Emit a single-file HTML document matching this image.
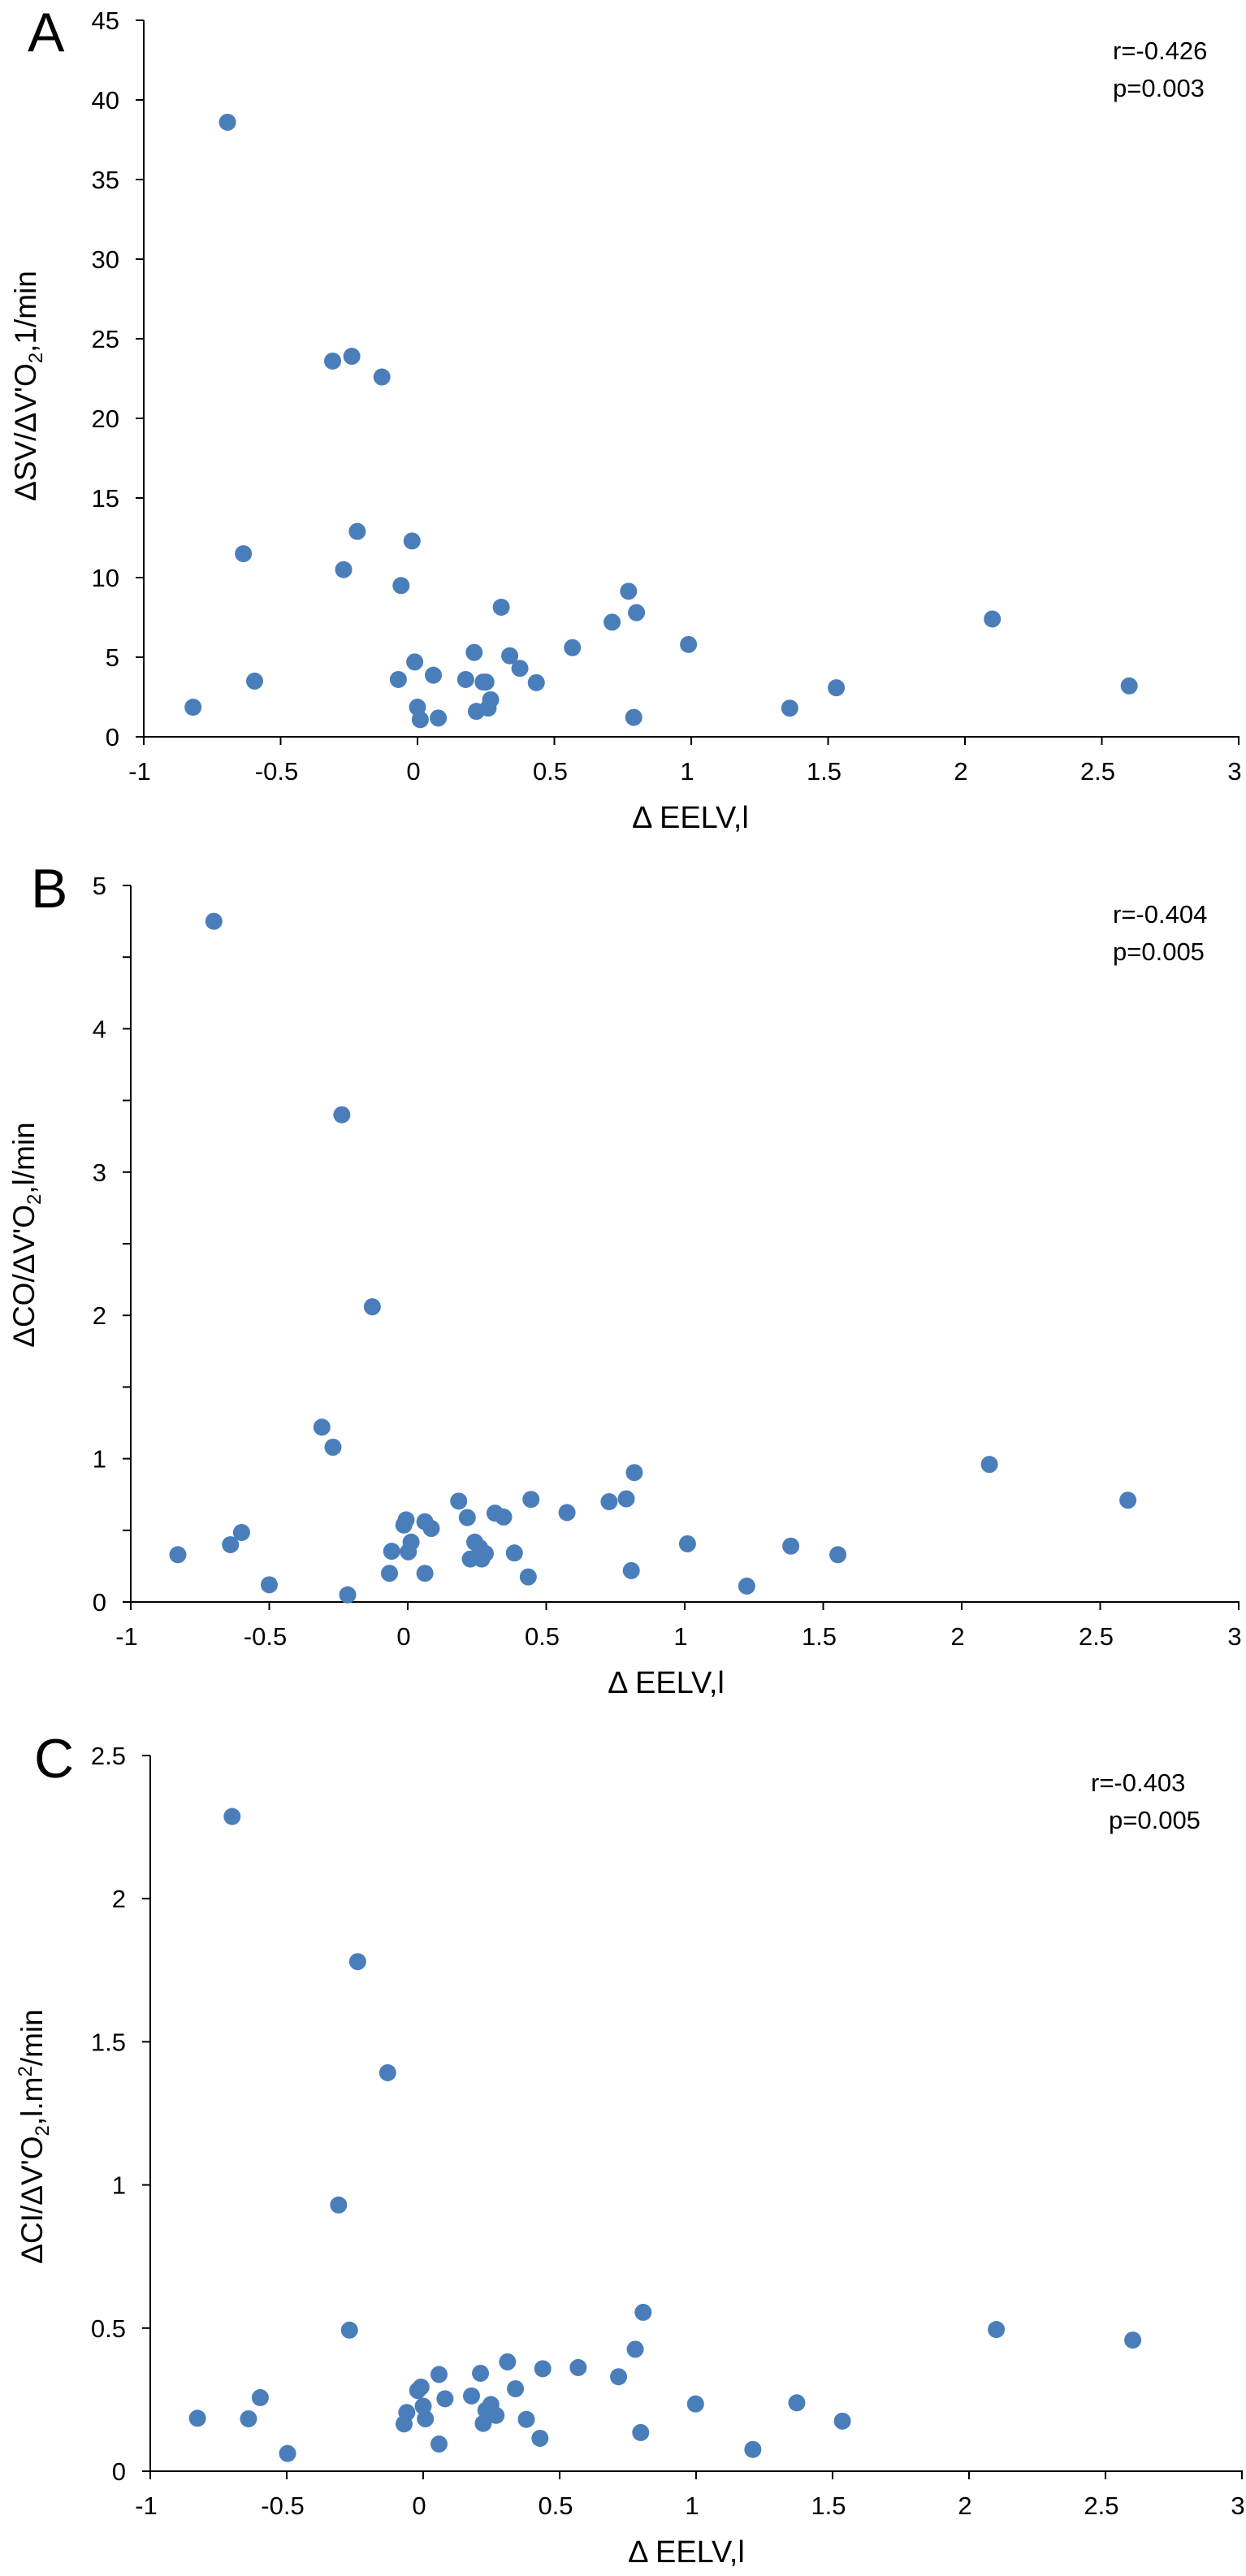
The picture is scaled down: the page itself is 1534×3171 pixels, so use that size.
<!DOCTYPE html>
<html><head><meta charset="utf-8"><style>
html,body{margin:0;padding:0;background:#fff;}
svg{display:block;font-family:"Liberation Sans",Arial,sans-serif;}
</style></head><body>
<svg id="fig" width="1534" height="3171" viewBox="0 0 1534 3171" xmlns="http://www.w3.org/2000/svg"></svg>
<script>
// Panel A data
const aX = [-0.694,-0.82,-0.636,-0.595,-0.31,-0.24,-0.13,-0.22,-0.27,-0.02,-0.06,-0.07,-0.01,0,0.01,0.076,0.058,0.176,0.207,0.215,0.24,0.25,0.258,0.267,0.306,0.337,0.374,0.434,0.566,0.711,0.771,0.80,0.79,0.99,1.36,1.53,2.1,2.6];
const aY = [38.6,1.86,11.5,3.5,23.6,23.9,22.6,12.9,10.5,12.3,9.5,3.6,4.7,1.86,1.08,1.18,3.87,3.6,5.3,1.6,3.44,3.44,1.8,2.33,8.14,5.09,4.3,3.4,5.6,7.2,9.14,7.8,1.22,5.8,1.8,3.08,7.4,3.2];
const aYTicks = [0,5,10,15,20,25,30,35,40,45];
// Panel B data
const bX = [-0.70,-0.238,-0.128,-0.31,-0.27,-0.83,-0.64,-0.60,-0.50,-0.217,-0.066,-0.058,-0.014,-0.006,0.002,0.012,0.062,0.085,0.062,0.184,0.215,0.226,0.242,0.26,0.267,0.28,0.315,0.346,0.385,0.435,0.445,0.575,0.727,0.789,0.818,0.807,1.01,1.224,1.383,1.553,2.1,2.6];
const bY = [4.75,3.40,2.06,1.22,1.08,0.33,0.40,0.485,0.12,0.05,0.20,0.354,0.537,0.573,0.35,0.418,0.56,0.513,0.20,0.704,0.589,0.30,0.418,0.378,0.30,0.338,0.62,0.593,0.342,0.175,0.716,0.624,0.70,0.72,0.903,0.219,0.406,0.111,0.39,0.33,0.96,0.71];
const bYTicks = [0,1,2,3,4,5];
// Panel C data
const cX = [-0.70,-0.24,-0.13,-0.31,-0.27,-0.827,-0.64,-0.597,-0.497,-0.07,-0.06,-0.02,-0.008,0,0.008,0.058,0.058,0.08,0.177,0.21,0.22,0.23,0.248,0.267,0.309,0.338,0.378,0.428,0.438,0.568,0.716,0.777,0.806,0.797,0.998,1.208,1.369,1.536,2.1,2.6];
const cY = [2.287,1.78,1.392,0.93,0.493,0.185,0.183,0.257,0.062,0.165,0.205,0.282,0.294,0.227,0.183,0.338,0.095,0.253,0.263,0.342,0.167,0.213,0.233,0.195,0.382,0.288,0.181,0.115,0.358,0.362,0.33,0.426,0.555,0.135,0.235,0.076,0.239,0.175,0.495,0.458];
const cYTicks = [0,0.5,1,1.5,2,2.5];
const xTicks = [-1,-0.5,0,0.5,1,1.5,2,2.5,3];

const NS = "http://www.w3.org/2000/svg";
const svg = document.getElementById('fig');
function mk(tag, attrs, parent, text){
  const e = document.createElementNS(NS, tag);
  for (const k in attrs) e.setAttribute(k, attrs[k]);
  if (text !== undefined) e.textContent = text;
  (parent || svg).appendChild(e);
  return e;
}

function panel(cfg){
  const g = mk('g', {});
  
  
  const xs = v => cfg.x0 + (v - (-1)) * (cfg.x1 - cfg.x0) / 4;
  const ys = v => cfg.y0 - v * (cfg.y0 - cfg.yTop) / cfg.yMax;
  // axes
  const ya = mk('line', {x1: cfg.x0, y1: cfg.yTop, x2: cfg.x0, y2: cfg.y0, stroke: '#000', 'stroke-width': 2}, g);
  
  
  const xa = mk('line', {x1: cfg.x0 - 10, y1: cfg.y0, x2: cfg.x1 + 1, y2: cfg.y0, stroke: '#000', 'stroke-width': 2}, g);
  
  
  // y ticks
  cfg.yTicks.forEach(t => {
    const y = ys(t);
    mk('line', {x1: cfg.x0 - 10, y1: y, x2: cfg.x0, y2: y, stroke: '#000', 'stroke-width': 2}, g);
    const lb = mk('text', {x: cfg.x0 - 30, y: y + 11, 'text-anchor': 'end', 'font-size': 31}, g, String(t));
    
    
  });
  if (cfg.minor) {
    cfg.yTicks.slice(0, -1).forEach(t => {
      const y = ys(t + cfg.minor);
      mk('line', {x1: cfg.x0 - 10, y1: y, x2: cfg.x0, y2: y, stroke: '#000', 'stroke-width': 2}, g);
    });
  }
  // x ticks
  xTicks.forEach(t => {
    const x = xs(t);
    mk('line', {x1: x, y1: cfg.y0, x2: x, y2: cfg.y0 + 10, stroke: '#000', 'stroke-width': 2}, g);
    const lb = mk('text', {x: x - 5, y: cfg.y0 + 53, 'text-anchor': 'middle', 'font-size': 31}, g, String(t));
    
    
  });
  // points
  cfg.xs.forEach((v, i) => {
    const c = mk('circle', {cx: xs(v), cy: ys(cfg.ys[i]), r: 10.5, fill: '#4a7ebb'}, g);
    
    
  });
  // x title
  const xt = mk('text', {x: cfg.xtX, y: cfg.y0 + 112, 'text-anchor': 'middle', 'font-size': 38}, g, 'Δ EELV,l');
  
  
  // y title
  const yt = mk('text', {x: 0, y: 0, 'text-anchor': 'middle', 'font-size': 37, transform: 'translate(' + cfg.ytX + ',' + cfg.ytY + ') rotate(-90)'}, g);
  
  
  cfg.ytParts.forEach(p => {
    const s = mk('tspan', p.sub ? {'font-size': 24, dy: 8} : (p.sup ? {'font-size': 24, dy: -13} : (p.reset ? {dy: p.reset} : {})), yt, p.t);
  });
  // panel letter
  const pl = mk('text', {x: cfg.lx, y: cfg.ly, 'font-size': 68}, g, cfg.id);
  
  
  // stats
  const r = mk('text', {x: cfg.sx, y: cfg.sy, 'font-size': 31}, g, cfg.r);
  
  
  const p = mk('text', {x: cfg.sx + cfg.pdx, y: cfg.sy + 46, 'font-size': 31}, g, cfg.p);
  
  
}

panel({id:'A', x0:177, x1:1525, y0:907, yTop:25, yMax:45, yTicks:aYTicks, xs:aX, ys:aY,
  xtX:850, ytX:44, ytY:475, lx:34, ly:63, sx:1370, sy:73, pdx:0, r:'r=-0.426', p:'p=0.003',
  ytParts:[{t:"ΔSV/ΔV'O"},{t:'2',sub:1},{t:',1/min',reset:-8}]});
panel({id:'B', x0:161, x1:1525, y0:1972, yTop:1090, yMax:5, yTicks:bYTicks, minor:0.5, xs:bX, ys:bY,
  xtX:820, ytX:42, ytY:1520, lx:38, ly:1117, sx:1370, sy:1136, pdx:0, r:'r=-0.404', p:'p=0.005',
  ytParts:[{t:"ΔCO/ΔV'O"},{t:'2',sub:1},{t:',l/min',reset:-8}]});
panel({id:'C', x0:185, x1:1529, y0:3042, yTop:2161, yMax:2.5, yTicks:cYTicks, xs:cX, ys:cY,
  xtX:845, ytX:52, ytY:2630, lx:42, ly:2188, sx:1343, sy:2205, pdx:22, r:'r=-0.403', p:'p=0.005',
  ytParts:[{t:"ΔCI/ΔV'O"},{t:'2',sub:1},{t:',l.m',reset:-8},{t:'2',sup:1},{t:'/min',reset:13}]});
</script>
</body></html>
